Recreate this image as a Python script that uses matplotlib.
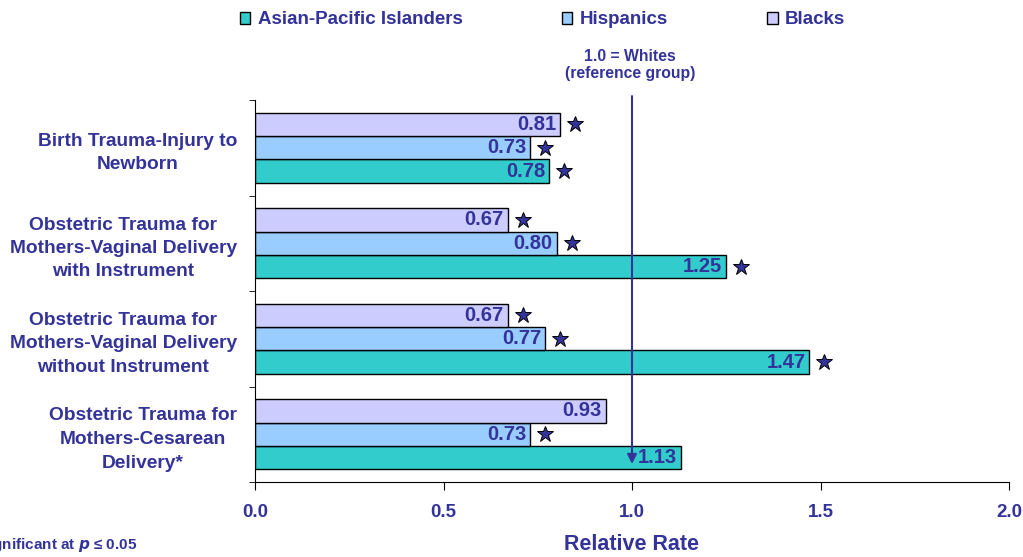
import numpy as np
import matplotlib
matplotlib.use('Agg')
import matplotlib.pyplot as plt
from matplotlib.patches import Patch

plt.rcParams['font.family'] = ['Liberation Sans', 'DejaVu Sans']
plt.rcParams['font.weight'] = 'bold'

categories = ['Birth Trauma-Injury to\nNewborn',
              'Obstetric Trauma for\nMothers-Vaginal Delivery\nwith Instrument',
              'Obstetric Trauma for\nMothers-Vaginal Delivery\nwithout Instrument',
              'Obstetric Trauma for\nMothers-Cesarean\nDelivery*']
series = ['Asian-Pacific Islanders', 'Hispanics', 'Blacks']
asian = [0.78, 1.25, 1.47, 1.13]
hispanic = [0.73, 0.80, 0.77, 0.73]
black = [0.81, 0.67, 0.67, 0.93]
# significance flags (star)
asian_sig = [True, True, True, False]
hispanic_sig = [True, True, True, True]
black_sig = [True, True, True, False]

txt = '#333399'
colors = ['#33CCCC', '#99CCFF', '#CCCCFF']

fig = plt.figure(figsize=(10.23, 5.57), dpi=100)
ax = fig.add_axes([255/1023, 1-482/557, 754/1023, 382/557])

pos = np.arange(len(categories))[::-1]  # top category first
h = 0.245
offs = [-h, 0, h]
for vals, sig, off, c in zip([asian, hispanic, black], [asian_sig, hispanic_sig, black_sig], offs, colors):
    ax.barh(pos + off, vals, height=h, color=c, edgecolor='black', linewidth=1)
    for y, v, s in zip(pos + off, vals, sig):
        ax.text(v - 0.01, y, '%.2f' % v, ha='right', va='center', color=txt, fontsize=14.5, fontweight='bold')
        if s:
            ax.plot(v + 0.04, y, marker='*', markersize=12, markerfacecolor=txt,
                    markeredgecolor='black', markeredgewidth=0.7, clip_on=False)

ax.set_xlim(0, 2.0)
ax.set_ylim(-0.5, 3.5)
ax.set_xticks([0, 0.5, 1.0, 1.5, 2.0])
ax.set_xticklabels(['0.0', '0.5', '1.0', '1.5', '2.0'])
ax.set_yticks(pos)
ax.set_yticklabels(categories, ha='right', multialignment='center', linespacing=1.5)
ax.set_yticks(np.arange(-0.5, 4, 1), minor=True)
ax.tick_params(axis='y', which='major', length=0, pad=13, labelsize=13.8, labelcolor=txt)
ax.tick_params(axis='y', which='minor', length=4)
ax.tick_params(axis='x', length=6, pad=10, labelsize=13.5, labelcolor=txt)
for l in ax.get_xticklabels() + ax.get_yticklabels():
    l.set_fontweight('bold')
ax.spines['top'].set_visible(False)
ax.spines['right'].set_visible(False)
ax.set_xlabel('Relative Rate', fontsize=15.5, fontweight='bold', color=txt, labelpad=9)

# reference line
ax.annotate('', xy=(1.0, -0.34), xytext=(1.0, 3.57),
            arrowprops=dict(arrowstyle='-|>', color=txt, lw=1.5, mutation_scale=14),
            annotation_clip=False)
fig.text(630/1023, 1-65/557, '1.0 = Whites\n(reference group)', ha='center', va='center',
         fontsize=11.3, fontweight='bold', color=txt, linespacing=1.12)

handles = [Patch(facecolor=c, edgecolor='black', linewidth=1) for c in colors]
leg = fig.legend(handles, series, loc='center left', bbox_to_anchor=(223/1023, 1-20/557), ncol=3,
                 frameon=False, handlelength=0.55, handleheight=0.55, handletextpad=0.4,
                 columnspacing=5.3, prop={'size': 13.5, 'weight': 'bold'})
for t in leg.get_texts():
    t.set_color(txt)

fig.text(137/1023, 1-545/557, '* Significant at $\\it{p}$ \u2264 0.05', ha='right', va='center',
         fontsize=11, fontweight='bold', color=txt)

fig.savefig('out.png', dpi=100)
